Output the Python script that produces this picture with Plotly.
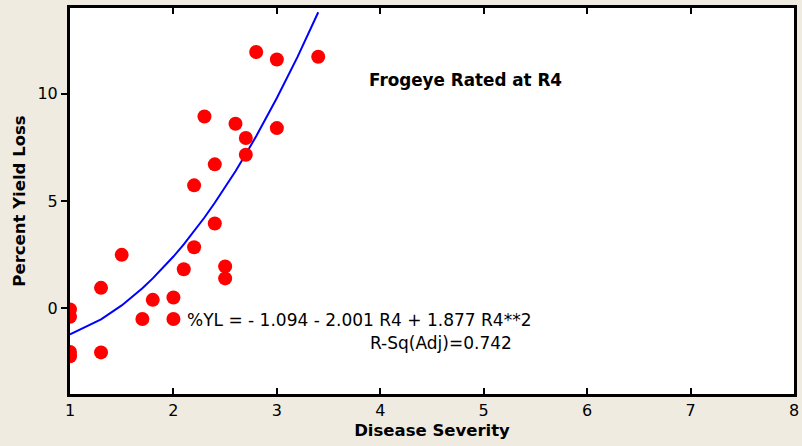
import plotly.graph_objects as go

# Observed data (Disease Severity vs Percent Yield Loss)
severity = [1.0, 1.0, 1.0, 1.0, 1.3, 1.3, 1.5, 1.7, 1.8, 2.0, 2.0, 2.1, 2.2, 2.2,
            2.3, 2.4, 2.4, 2.5, 2.5, 2.6, 2.7, 2.7, 2.8, 3.0, 3.0, 3.4]
yield_loss = [-0.06, -0.4, -2.04, -2.24, 0.95, -2.06, 2.49, -0.5, 0.39, 0.5, -0.5, 1.82, 2.84, 5.73,
              8.94, 3.95, 6.71, 1.95, 1.39, 8.6, 7.94, 7.16, 11.95, 11.6, 8.4, 11.73]

# Fitted line (evaluated at data severities)
fit_x = [1.0, 1.3, 1.5, 1.7, 1.8, 2.0, 2.1, 2.2, 2.3, 2.4, 2.5, 2.6, 2.7, 2.8, 3.0, 3.2, 3.4]
fit_y = [-1.22, -0.52, 0.13, 0.93, 1.39, 2.41, 2.98, 3.59, 4.23, 4.92, 5.64, 6.39, 7.19,
         8.02, 9.80, 11.72, 13.80]

eq_text = "%YL = - 1.094 - 2.001 R4 + 1.877 R4**2"
rsq_text = "R-Sq(Adj)=0.742"
title_text = "Frogeye Rated at R4"

FONT = "DejaVu Sans"

fig = go.Figure()
fig.add_trace(go.Scatter(x=fit_x, y=fit_y, mode="lines",
                         line=dict(color="#0000ff", width=2), showlegend=False))
fig.add_trace(go.Scatter(x=severity, y=yield_loss, mode="markers",
                         marker=dict(color="#ff0000", size=14), showlegend=False))

fig.add_annotation(x=2.11, y=-0.56, text=eq_text, showarrow=False, xanchor="left",
                   yanchor="middle", font=dict(family=FONT, size=17, color="black"))
fig.add_annotation(x=5.29, y=-1.62, text=rsq_text, showarrow=False, xanchor="right",
                   yanchor="middle", font=dict(family=FONT, size=17, color="black"))
fig.add_annotation(x=4.82, y=10.65, text="<b>" + title_text + "</b>", showarrow=False,
                   xanchor="center", yanchor="middle", font=dict(family=FONT, size=16.8, color="black"))

fig.update_layout(
    width=802, height=446,
    margin=dict(l=70, r=3, t=8, b=52),
    paper_bgcolor="#efebe1", plot_bgcolor="white",
    font=dict(family=FONT, size=16, color="black"),
)
fig.update_xaxes(range=[1, 8], tickvals=[1, 2, 3, 4, 5, 6, 7, 8], showgrid=False, zeroline=False,
                 showline=True, linecolor="black", linewidth=3, mirror="ticks",
                 ticks="inside", ticklen=6, tickwidth=2, tickcolor="black",
                 title=dict(text="<b>Disease Severity</b>", standoff=6, font=dict(size=16.5)))
fig.update_yaxes(range=[-4, 14], tickvals=[0, 5, 10], showgrid=False, zeroline=False,
                 showline=True, linecolor="black", linewidth=3, mirror=True,
                 ticks="outside", ticklen=6, tickwidth=2, tickcolor="black",
                 title=dict(text="<b>Percent Yield Loss</b>", standoff=8, font=dict(size=16.5)))

fig.write_html("out.html")
